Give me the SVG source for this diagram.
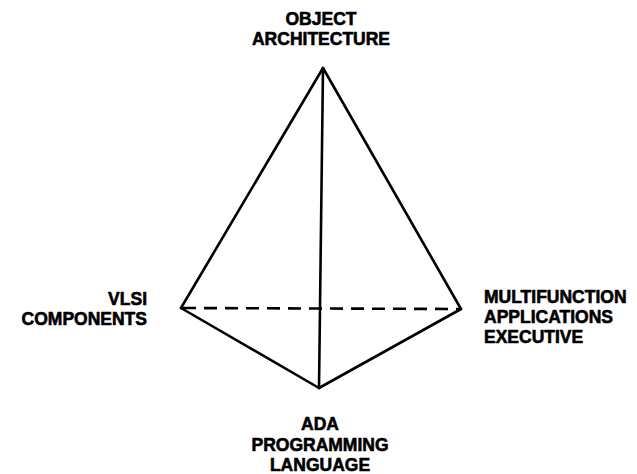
<svg xmlns="http://www.w3.org/2000/svg" width="637" height="474" viewBox="0 0 637 474">
<style>
.lbl{font-family:"Liberation Sans",Arial,sans-serif;font-weight:bold;font-size:17.5px;fill:#000;stroke:#000;stroke-width:0.6;stroke-linejoin:round}
.edge{stroke:#000;stroke-width:2.6;fill:none;stroke-linecap:round;stroke-linejoin:round}
.dash{stroke-dasharray:13 8;stroke-linecap:butt}
</style>
<rect width="637" height="474" fill="#fff"/>
<g id="connectors">
<line class="edge" x1="323" y1="68" x2="181" y2="308"/>
<line class="edge" x1="323" y1="68" x2="461" y2="309"/>
<line class="edge" x1="323" y1="68" x2="319" y2="388"/>
<line class="edge" x1="181" y1="308" x2="319" y2="388"/>
<line class="edge" x1="461" y1="309" x2="319" y2="388"/>
<line class="edge dash" x1="183" y1="308" x2="459" y2="309"/>
</g>
<g id="object-architecture">
<text class="lbl" x="321" y="25" text-anchor="middle">OBJECT</text>
<text class="lbl" x="321" y="45" text-anchor="middle">ARCHITECTURE</text>
</g>
<g id="vlsi-components">
<text class="lbl" x="147" y="305" text-anchor="end">VLSI</text>
<text class="lbl" x="147" y="325" text-anchor="end">COMPONENTS</text>
</g>
<g id="multifunction-applications-executive">
<text class="lbl" x="484" y="303">MULTIFUNCTION</text>
<text class="lbl" x="484" y="323">APPLICATIONS</text>
<text class="lbl" x="484" y="343">EXECUTIVE</text>
</g>
<g id="ada-programming-language">
<text class="lbl" x="320" y="430" text-anchor="middle">ADA</text>
<text class="lbl" x="320" y="450.5" text-anchor="middle">PROGRAMMING</text>
<text class="lbl" x="320" y="471" text-anchor="middle">LANGUAGE</text>
</g>
</svg>
